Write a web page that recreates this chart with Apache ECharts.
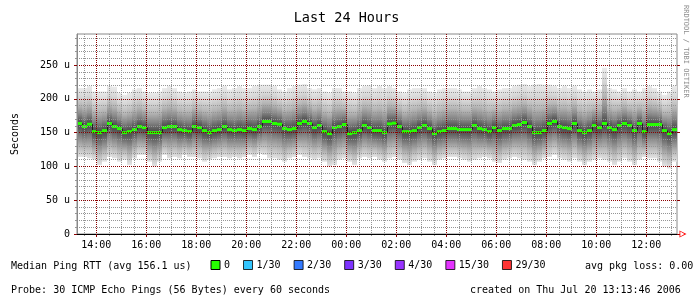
<!DOCTYPE html>
<html><head><meta charset="utf-8">
<script src="https://cdn.jsdelivr.net/npm/echarts@6/dist/echarts.min.js"></script>
<style>html,body{margin:0;padding:0;background:#fff}#c{width:693px;height:304px}</style>
</head><body><div id="c"></div><script>
const START_HOUR = 13 + 13/60 + 46/3600; // 13:13:46 the day before
const SPAN_HOURS = 24;
const STEP_HOURS = 0.2; // 12 minutes per step

const medianRtt = [
163.5,159,162.5,151.5,150,153,163.5,159,156,150,
151.5,154.5,159,157.5,150,150,150,157.5,159,159,
154.5,153,151.5,159,157.5,153,150,153,154.5,159,
154.5,153,154.5,153,156,154.5,159,166.5,166.5,163.5,
162.5,156,154.5,156,163.5,166.5,163.5,157.5,160.5,151.5,
148.5,157.5,159,162,148.5,150,153,160.5,157.5,153,
153,150,163,164,159,151.5,151.5,153,157.5,160.5,
156,148.5,151.5,153,156,156,154.5,154.5,154.5,160.5,
156,154.5,151.5,157.5,153,156,156,160.5,162,165,
159,150,150,153,163.5,166.5,159,157.5,156,163.5,
153,150,153,160.5,157.5,163.5,157.5,154.5,160.5,163.5,
160.5,153,163.5,151.5,162,162,162,153,148.5,154.5
];
const smokeTop = [
216,216,219,211,211,211,219,218,209,206,209,214,216,211,209,209,211,216,219,216,211,209,211,214,211,211,211,214,216,219,
214,216,219,216,216,219,221,221,221,219,214,211,216,219,221,222,216,214,216,211,209,216,216,211,211,209,216,219,220,216,
219,216,219,216,211,209,214,216,216,216,211,209,214,216,216,216,214,211,211,216,219,216,214,211,214,216,216,219,221,222,
219,221,222,221,221,219,216,219,216,219,214,211,214,211,214,246,216,214,211,216,211,214,211,216,219,216,211,206,211,219
];
const smokeBottom = [
114,114,112,110,102,107,114,112,107,110,102,112,117,117,107,100,107,117,112,114,112,117,114,114,112,107,110,112,114,114,
112,114,112,114,117,114,119,117,112,112,110,107,112,114,117,114,112,110,112,107,100,102,110,112,107,102,112,114,112,114,
110,107,112,114,110,105,102,107,110,112,107,102,110,112,114,114,112,110,107,110,112,114,112,107,105,110,112,114,112,110,
107,102,107,112,114,117,112,110,107,112,107,102,107,110,112,110,107,102,107,112,107,102,110,114,112,112,107,100,97,107
];

const xMajorTicks = [14,16,18,20,22,24,26,28,30,32,34,36];
const xTickLabels = ['14:00','16:00','18:00','20:00','22:00','00:00','02:00','04:00','06:00','08:00','10:00','12:00'];
const xMinorTicks = [13.5,14.5,15,15.5,16.5,17,17.5,18.5,19,19.5,20.5,21,21.5,22.5,23,23.5,24.5,25,25.5,26.5,27,27.5,28.5,29,29.5,30.5,31,31.5,32.5,33,33.5,34.5,35,35.5,36.5,37];
const yMajorTicks = [0,50,100,150,200,250];
const yTickLabels = ['0','50 u','100 u','150 u','200 u','250 u'];
const yMinorTicks = [10,20,30,40,60,70,80,90,110,120,130,140,160,170,180,190,210,220,230,240,260,270,280,290];
const Y_MAX = 296;

const lossNames = ['0','1/30','2/30','3/30','4/30','15/30','29/30'];
const lossColors = ['#26ff00','#00b8ff','#0059ff','#5e00ff','#7e00ff','#dd00ff','#ff0000'];

const FONT = '"DejaVu Sans Mono", monospace';
const MAJOR = '#8b0000', MINOR = '#959595';

const rows = medianRtt.map((m, i) => [START_HOUR + i * STEP_HOURS, m, smokeBottom[i], smokeTop[i]]);

function renderSmoke(params, api) {
  const t0 = api.value(0), t1 = t0 + STEP_HOURS;
  const med = api.value(1), lo = api.value(2), hi = api.value(3);
  const pHi = api.coord([t0, hi]), pLo = api.coord([t1, lo]), pMed = api.coord([t0, med]);
  const h = pLo[1] - pHi[1];
  const fm = (pMed[1] - pHi[1]) / h, dn = 1 - fm;
  const stops = [
    {offset: 0, color: '#ebebeb'},
    {offset: fm * 0.25, color: '#d6d6d6'},
    {offset: fm * 0.5, color: '#b6b6b6'},
    {offset: fm * 0.75, color: '#858585'},
    {offset: fm * 0.92, color: '#585858'},
    {offset: fm, color: '#4a4a4a'},
    {offset: fm + dn * 0.15, color: '#5a5a5a'},
    {offset: fm + dn * 0.4, color: '#878787'},
    {offset: fm + dn * 0.7, color: '#b8b8b8'},
    {offset: 1, color: '#e4e4e4'}
  ];
  return {
    type: 'rect',
    shape: {x: pHi[0], y: pHi[1], width: pLo[0] - pHi[0], height: h},
    style: {fill: {type: 'linear', x: 0, y: 0, x2: 0, y2: 1, colorStops: stops}}
  };
}

function renderMedian(params, api) {
  const i = params.dataIndex;
  const t0 = api.value(0), t1 = t0 + STEP_HOURS, med = api.value(1);
  const a = api.coord([t0, med]), b = api.coord([t1, med]);
  const children = [];
  if (i > 0) {
    const prev = api.coord([t0, medianRtt[i - 1]]);
    children.push({type: 'line', shape: {x1: a[0] + 0.5, y1: prev[1], x2: a[0] + 0.5, y2: a[1]},
      style: {stroke: '#1e1e1e', lineWidth: 1}});
  }
  children.push({type: 'rect', shape: {x: a[0], y: a[1] - 1.5, width: b[0] - a[0], height: 3},
    style: {fill: lossColors[0]}});
  return {type: 'group', children};
}

const series = [
  {type: 'custom', name: 'smoke', renderItem: renderSmoke, data: rows, encode: {x: 0, y: 1}, z: 2, silent: true},
  {type: 'custom', name: lossNames[0], renderItem: renderMedian, data: rows, encode: {x: 0, y: 1}, z: 3,
   itemStyle: {color: lossColors[0]}, silent: true}
];
for (let k = 1; k < lossNames.length; k++) {
  series.push({type: 'scatter', name: lossNames[k], data: [], itemStyle: {color: lossColors[k]}});
}

const gridLine = (c) => ({show: true, lineStyle: {color: c, width: 1, type: [1, 1]}});

const option = {
  animation: false,
  backgroundColor: '#ffffff',
  title: {text: 'Last 24 Hours', left: 'center', top: 6,
    textStyle: {fontFamily: FONT, fontSize: 13.5, fontWeight: 'normal', color: '#000'}},
  grid: {left: 77, top: 34, right: 16, bottom: 70, show: true, borderColor: '#888', borderWidth: 1,
    backgroundColor: 'transparent'},
  legend: {
    data: lossNames, icon: 'rect', left: 210.5, top: 260, padding: 0,
    itemWidth: 9, itemHeight: 9, itemGap: 13,
    itemStyle: {borderColor: '#000', borderWidth: 1},
    textStyle: {fontFamily: FONT, fontSize: 10, color: '#000', padding: [0, 0, 0, -1]},
    selectedMode: false
  },
  xAxis: [
    {type: 'value', min: START_HOUR, max: START_HOUR + SPAN_HOURS, position: 'bottom', z: 10,
      axisLine: {show: true, lineStyle: {color: '#000', width: 1}},
      axisTick: {show: true, customValues: xMajorTicks, length: 3, lineStyle: {color: MAJOR}},
      axisLabel: {customValues: xMajorTicks, formatter: v => xTickLabels[xMajorTicks.indexOf(Math.round(v))],
        fontFamily: FONT, fontSize: 10, color: '#000', margin: 6},
      splitLine: gridLine(MAJOR)},
    {type: 'value', min: START_HOUR, max: START_HOUR + SPAN_HOURS, position: 'bottom', z: 9,
      axisLine: {show: false},
      axisTick: {show: true, customValues: xMinorTicks, length: 2, lineStyle: {color: MINOR}},
      axisLabel: {show: false},
      splitLine: gridLine(MINOR)},
    {type: 'value', min: START_HOUR, max: START_HOUR + SPAN_HOURS, position: 'bottom', z: 11,
      axisLine: {show: true, symbol: ['none', 'path://M5,0L10,10L0,10Z M5,3L1.6,8.8L8.4,8.8Z'],
        symbolSize: [7, 7], symbolOffset: [0, 6], lineStyle: {color: '#ff0000', opacity: 0}},
      axisTick: {show: false}, axisLabel: {show: false}, splitLine: {show: false}}
  ],
  yAxis: [
    {type: 'value', min: 0, max: Y_MAX, position: 'left', z: 10,
      name: 'Seconds', nameLocation: 'middle', nameRotate: 90, nameGap: 57,
      nameTextStyle: {fontFamily: FONT, fontSize: 10, color: '#000'},
      axisLine: {show: true, lineStyle: {color: '#888'}},
      axisTick: {show: true, customValues: yMajorTicks, length: 3, lineStyle: {color: MAJOR}},
      axisLabel: {customValues: yMajorTicks, formatter: v => yTickLabels[yMajorTicks.indexOf(Math.round(v))],
        fontFamily: FONT, fontSize: 10, color: '#000', margin: 7},
      splitLine: gridLine(MAJOR)},
    {type: 'value', min: 0, max: Y_MAX, position: 'left', z: 9,
      axisLine: {show: false},
      axisTick: {show: true, customValues: yMinorTicks, length: 2, lineStyle: {color: MINOR}},
      axisLabel: {show: false},
      splitLine: gridLine(MINOR)},
    {type: 'value', min: 0, max: Y_MAX, position: 'right', z: 10,
      axisLine: {show: false},
      axisTick: {show: true, customValues: yMajorTicks, length: 3, lineStyle: {color: MAJOR}},
      axisLabel: {show: false}, splitLine: {show: false}}
  ],
  graphic: [
    {type: 'text', left: 11, top: 261, style: {text: 'Median Ping RTT (avg 156.1 us)', font: '10px ' + FONT, fill: '#000'}},
    {type: 'text', left: 585, top: 261, style: {text: 'avg pkg loss: 0.00', font: '10px ' + FONT, fill: '#000'}},
    {type: 'text', left: 11, top: 285, style: {text: 'Probe: 30 ICMP Echo Pings (56 Bytes) every 60 seconds', font: '10px ' + FONT, fill: '#000'}},
    {type: 'text', left: 470, top: 285, style: {text: 'created on Thu Jul 20 13:13:46 2006', font: '10px ' + FONT, fill: '#000'}},
    {type: 'text', x: 689, y: 5, rotation: -Math.PI / 2,
      style: {text: 'RRDTOOL / TOBI OETIKER', font: '7px ' + FONT, fill: '#8c8c8c', align: 'left', verticalAlign: 'top'}}
  ],
  series: series
};

const chart = echarts.init(document.getElementById('c'), null, {renderer: 'canvas'});
chart.setOption(option);
</script></body></html>
